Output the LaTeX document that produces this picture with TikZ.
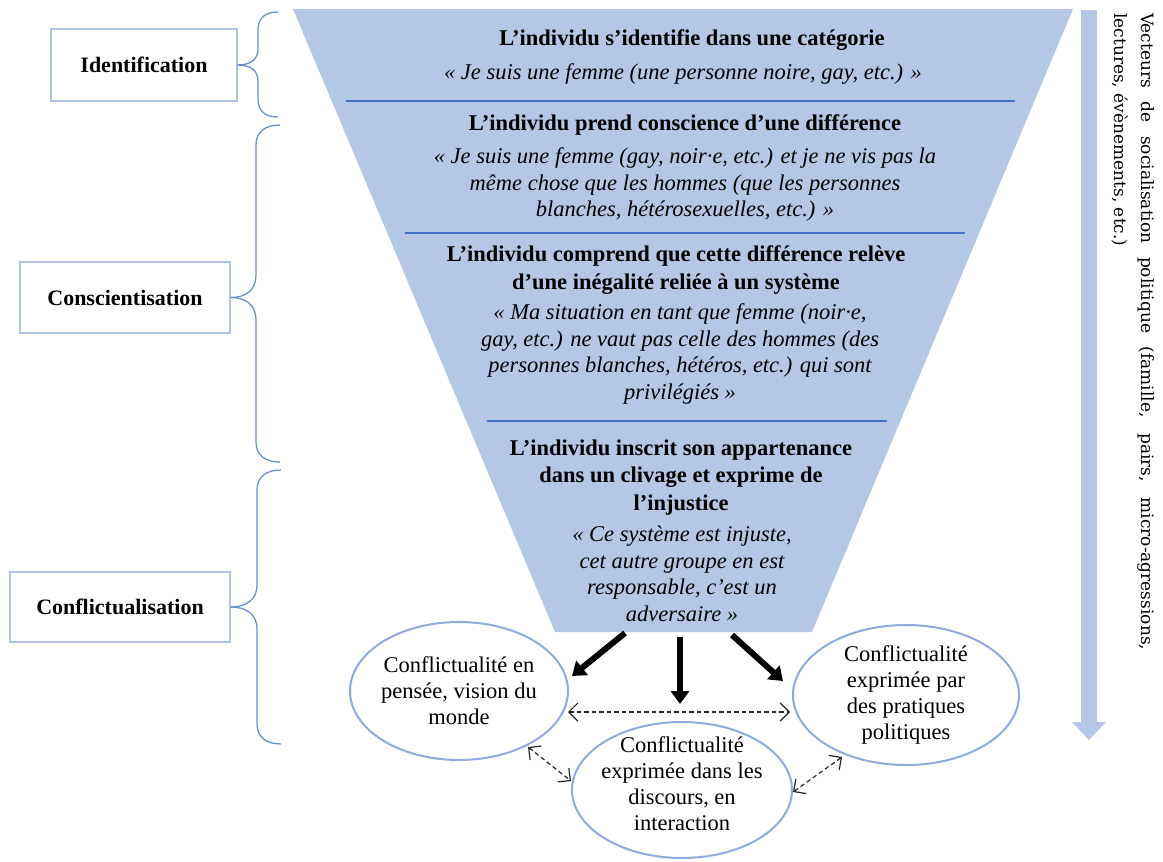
\documentclass[tikz,border=0pt]{standalone}
\usepackage{fontspec}
\setmainfont{Liberation Serif}
\newfontfamily\vfont{DejaVu Serif}
\usetikzlibrary{arrows.meta,shapes.geometric}
\definecolor{funnelblue}{HTML}{B4C7E7}
\definecolor{sepblue}{HTML}{4472C4}
\definecolor{braceblue}{HTML}{6A8FD0}
\definecolor{boxblue}{HTML}{AFC3E6}
\definecolor{ellblue}{HTML}{8FAADC}
\definecolor{dashgray}{HTML}{262626}
\begin{document}
\begin{tikzpicture}[x=1pt,y=-1pt,
  titletext/.style={font={\fontsize{22.5}{27.5}\selectfont\bfseries}, align=center, inner sep=0},
  quotetext/.style={font={\fontsize{22.5}{26.5}\selectfont\itshape}, align=center, inner sep=0},
  labbox/.style={draw=boxblue, line width=1.3pt, font={\fontsize{22}{26}\selectfont\bfseries}, inner sep=0},
  bracepath/.style={draw=braceblue, line width=1.3pt},
  seppath/.style={draw=sepblue, line width=1.2pt},
  ell/.style={ellipse, draw=ellblue, line width=2pt, inner sep=0},
  elltext/.style={font={\fontsize{22.5}{26}\selectfont}, align=center, inner sep=0},
  bigarrow/.style={line width=6pt, -{Triangle[length=13pt,width=18pt]}},
  dasharrow/.style={draw=dashgray, line width=1.2pt, dash pattern=on 4.5pt off 3pt, {Straight Barb[length=9pt,width=18pt]}-{Straight Barb[length=9pt,width=18pt]}},
  vtext/.style={rotate=-90, anchor=north west, align=left, inner sep=0, font={\vfont\fontsize{17}{27}\selectfont}}
]
\useasboundingbox (0,0) rectangle (1163,862);

% funnel
\fill[funnelblue] (293,9) -- (1073,9) -- (812,632) -- (555,632) -- cycle;
\draw[seppath] (346,101) -- (1015,101);
\draw[seppath] (405,233) -- (965,233);
\draw[seppath] (487,421) -- (887,421);

% funnel texts
\node[titletext] (t1) at (692,40) {L’individu s’identifie dans une catégorie};
\node[quotetext] (q1) at (683,74) {« Je suis une femme (une personne noire, gay, etc.) »};
\node[titletext] (t2) at (685,125) {L’individu prend conscience d’une différence};
\node[quotetext] (q2) at (685,184.5) {« Je suis une femme (gay, noir·e, etc.) et je ne vis pas la\\même chose que les hommes (que les personnes\\blanches, hétérosexuelles, etc.) »};
\node[titletext] (t3) at (676,270) {L’individu comprend que cette différence relève\\d’une inégalité reliée à un système};
\node[quotetext] (q3) at (680,354) {« Ma situation en tant que femme (noir·e,\\gay, etc.) ne vaut pas celle des hommes (des\\personnes blanches, hétéros, etc.) qui sont\\privilégiés »};
\node[titletext] (t4) at (681,477.5) {L’individu inscrit son appartenance\\dans un clivage et exprime de\\l’injustice};
\node[quotetext] (q4) at (682,574) {« Ce système est injuste,\\cet autre groupe en est\\responsable, c’est un\\adversaire »};

% left boxes
\node[labbox, minimum width=186pt, minimum height=72pt] (idb) at (144,65) {Identification};
\node[labbox, minimum width=210pt, minimum height=71pt] (cob) at (125,297.5) {Conscientisation};
\node[labbox, minimum width=220pt, minimum height=70pt] (cfb) at (120,607) {Conflictualisation};

% braces
\draw[bracepath] (idb.east) .. controls (250,65) and (258,60) .. (258,49) -- (258,30) .. controls (258,18) and (265,12) .. (278,12);
\draw[bracepath] (idb.east) .. controls (250,65) and (258,70) .. (258,81) -- (258,99) .. controls (258,111) and (265,117) .. (278,117);
\draw[bracepath] (cob.east) .. controls (246,297.5) and (256,290) .. (256,275) -- (256,145) .. controls (256,132) and (265,125) .. (280,125);
\draw[bracepath] (cob.east) .. controls (246,297.5) and (256,305) .. (256,320) -- (256,442) .. controls (256,455) and (265,462) .. (280,462);
\draw[bracepath] (cfb.east) .. controls (246,607) and (257,600) .. (257,585) -- (257,490) .. controls (257,477) and (266,470) .. (281,470);
\draw[bracepath] (cfb.east) .. controls (246,607) and (257,614) .. (257,629) -- (257,724) .. controls (257,737) and (266,744) .. (281,744);

% ellipses
\node[ell, minimum width=218pt, minimum height=138pt] (e1) at (459,691) {};
\node[ell, minimum width=220pt, minimum height=136pt] (e2) at (682,790) {};
\node[ell, minimum width=226pt, minimum height=140pt] (e3) at (906,695) {};
\node[elltext] (e1t) at (e1.center) {Conflictualité en\\pensée, vision du\\monde};
\node[elltext] (e2t) at ([yshift=6pt]e2.center) {Conflictualité\\exprimée dans les\\discours, en\\interaction};
\node[elltext] (e3t) at (e3.center) {Conflictualité\\exprimée par\\des pratiques\\politiques};

% thick arrows
\coordinate (f1) at (625,633);
\coordinate (f2) at (680,637);
\coordinate (f3) at (732,635);
\coordinate (h1) at (572,676);
\coordinate (h2) at (680,704);
\coordinate (h3) at (783,681);
\draw[bigarrow] (f1) -- (h1);
\draw[bigarrow] (f2) -- (h2);
\draw[bigarrow] (f3) -- (h3);

% dashed double arrows
\coordinate (d1a) at (568,712);
\coordinate (d1b) at (790,712);
\coordinate (d2a) at (528,747);
\coordinate (d2b) at (571,781);
\coordinate (d3a) at (842,757);
\coordinate (d3b) at (793,792);
\draw[dasharrow] (d1a) -- (d1b);
\draw[dasharrow] (d2a) -- (d2b);
\draw[dasharrow] (d3a) -- (d3b);

% right vertical arrow
\fill[funnelblue] (1081,10) -- (1097,10) -- (1097,722) -- (1106,722) -- (1089,740) -- (1072,722) -- (1081,722) -- cycle;

% vertical text
\node[vtext] (vt) at (1155,13) {\makebox[637pt][s]{Vecteurs de socialisation politique (famille, pairs, micro-agressions,}\\lectures, évènements, etc.)};
\end{tikzpicture}
\end{document}
